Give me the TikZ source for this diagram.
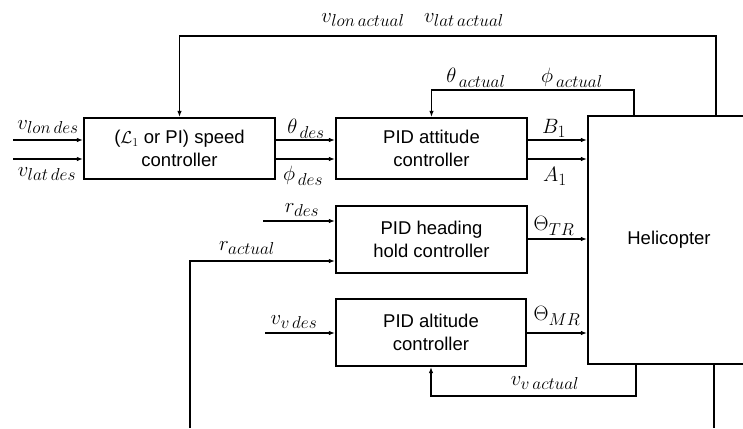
\documentclass[tikz,border=0pt]{standalone}
\usepackage{fontspec}
\setmainfont{Liberation Sans}
\DeclareMathSizes{20}{20}{17}{12}
\usetikzlibrary{arrows.meta,calc}
\begin{document}
\begin{tikzpicture}[x=1pt,y=-1pt,
  blk/.style={draw,line width=2.2pt,align=center,inner sep=0pt,
    font=\fontsize{18.5}{23}\selectfont},
  sig/.style={line width=1.2pt,-{Latex[length=6pt,width=4.5pt]}},
  wire/.style={line width=1.2pt},
  lbl/.style={inner sep=0pt,font=\fontsize{20}{24}\selectfont}]
\useasboundingbox (0,0) rectangle (743,428);
\clip (0,0) rectangle (743,428);

% blocks
\node[blk,minimum width=191pt,minimum height=61pt] (speed) at (179.5,148.5)
  {($\mathcal{L}_1$ or PI) speed\\controller};
\node[blk,minimum width=191pt,minimum height=61pt] (att) at (431.5,148.5)
  {PID attitude\\controller};
\node[blk,minimum width=191pt,minimum height=67pt] (head) at (431.5,239.5)
  {PID heading\\hold controller};
\node[blk,minimum width=190pt,minimum height=67pt] (alt) at (431,332.5)
  {PID altitude\\controller};
\node[blk,minimum width=162pt,minimum height=248pt] (heli) at (669,240)
  {Helicopter};

% free ends of the reference inputs
\coordinate (vlon) at (13,140);
\coordinate (vlat) at (13,159);
\coordinate (rdes) at (263,221);
\coordinate (vvdes) at (265,333);

% reference inputs
\draw[sig] (vlon) -- (vlon -| speed.west);
\draw[sig] (vlat) -- (vlat -| speed.west);
\draw[sig] (rdes) -- (rdes -| head.west);
\draw[sig] (vvdes) -- (vvdes -| alt.west);
\node[lbl] (lvlon) at (48,127) {$v_{lon\,des}$};
\node[lbl] (lvlat) at (47,174) {$v_{lat\,des}$};
\node[lbl] (lrdes) at (302,210) {$r_{des}$};
\node[lbl] (lvvdes) at (294,322) {$v_{v\,des}$};

% speed controller to attitude controller
\draw[sig] (speed.east |- vlon) -- (att.west |- vlon);
\draw[sig] (speed.east |- vlat) -- (att.west |- vlat);
\node[lbl] (lth) at (306,129) {$\theta_{\,des}$};
\node[lbl] (lph) at (303,176) {$\phi_{\,des}$};

% controllers to helicopter
\draw[sig] (att.east |- vlon) -- (heli.west |- vlon);
\draw[sig] (att.east |- vlat) -- (heli.west |- vlat);
\draw[sig] (head.east |- 0,239) -- (heli.west |- 0,239);
\draw[sig] (alt.east |- 0,333) -- (heli.west |- 0,333);
\node[lbl] (lB) at (554,128) {$B_1$};
\node[lbl] (lA) at (555,176) {$A_1$};
\node[lbl] (lTR) at (554,226) {$\Theta_{TR}$};
\node[lbl] (lMR) at (557,316) {$\Theta_{MR}$};

% feedback paths
\coordinate (fbtop) at (716,36);
\coordinate (fbatt) at (634,90);
\coordinate (fbalt) at (636,396);
\coordinate (fbr) at (190,428);
\coordinate (fbout) at (714,428);

\draw[sig] (fbtop |- heli.north) -- (fbtop) -- (fbtop -| speed.north) -- (speed.north);
\node[lbl] (lvlonact) at (363,20) {$v_{lon\,actual}$};
\node[lbl] (lvlatact) at (464,20) {$v_{lat\,actual}$};

\draw[sig] (fbatt |- heli.north) -- (fbatt) -- (fbatt -| att.north) -- (att.north);
\node[lbl] (lthact) at (476,78) {$\theta_{\,actual}$};
\node[lbl] (lphact) at (572,78) {$\phi_{\,actual}$};

\draw[sig] (fbalt |- heli.south) -- (fbalt) -- (fbalt -| alt.south) -- (alt.south);
\node[lbl] (lvvact) at (545,383) {$v_{v\,actual}$};

\draw[sig] (fbr) -- (fbr |- 0,261) -- (head.west |- 0,261);
\node[lbl] (lract) at (247,248) {$r_{actual}$};

\draw[wire] (fbout |- heli.south) -- (fbout);
\end{tikzpicture}
\end{document}
